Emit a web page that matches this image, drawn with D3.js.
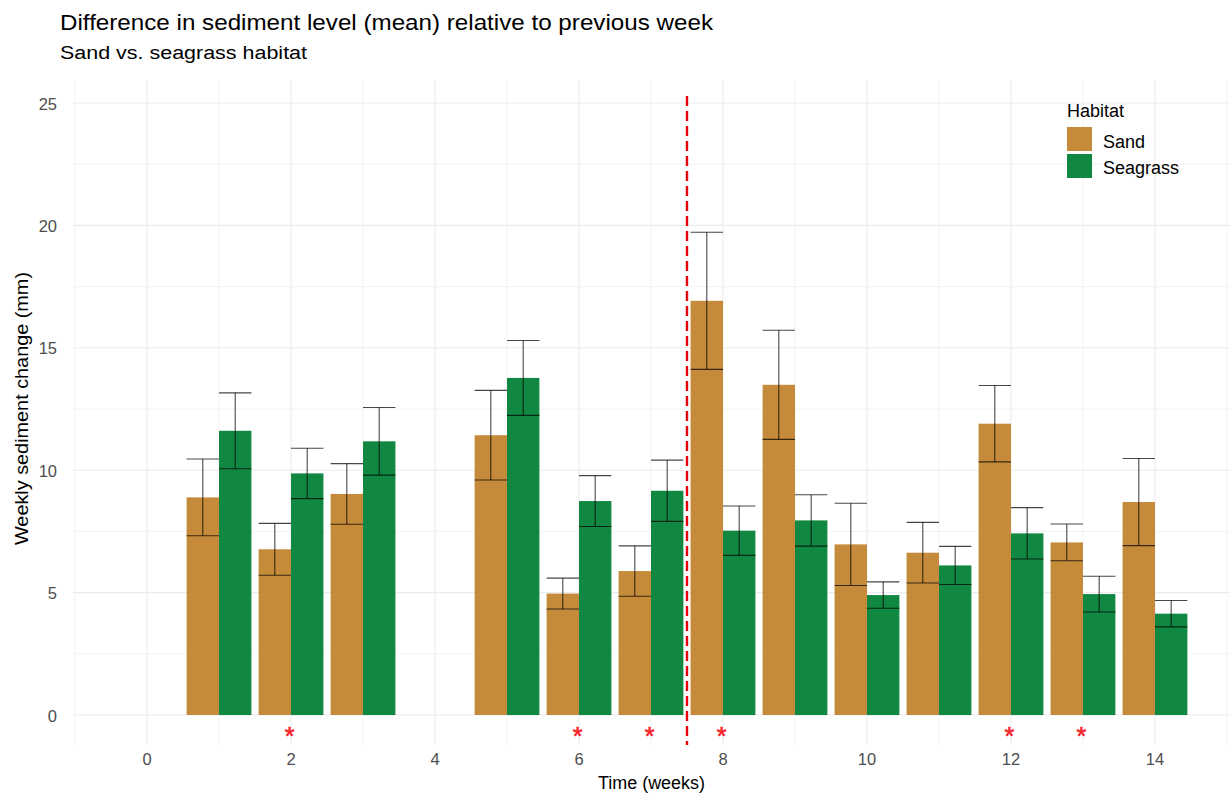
<!DOCTYPE html>
<html>
<head>
<meta charset="utf-8">
<script src="https://cdn.jsdelivr.net/npm/d3@7"></script>
<style>
  html, body { margin: 0; padding: 0; background: #fff; }
  svg { display: block; font-family: "Liberation Sans", Arial, sans-serif; }
</style>
</head>
<body>
<svg id="chart" width="1232" height="796"></svg>
<script>
// Weekly sediment change per habitat: mean and error half-width (mm)
const weeks = [1, 2, 3, 5, 6, 7, 8, 9, 10, 11, 12, 13, 14];
const habitats = ["Sand", "Seagrass"];
const sandMean = [8.89, 6.77, 9.03, 11.43, 4.96, 5.88, 16.92, 13.49, 6.97, 6.63, 11.90, 7.05, 8.70];
const sandErr  = [1.57, 1.06, 1.24, 1.83, 0.63, 1.03, 2.80, 2.23, 1.68, 1.24, 1.56, 0.75, 1.78];
const seagrassMean = [11.61, 9.87, 11.18, 13.77, 8.74, 9.16, 7.53, 7.95, 4.90, 6.11, 7.42, 4.94, 4.14];
const seagrassErr  = [1.55, 1.03, 1.38, 1.53, 1.04, 1.25, 1.01, 1.05, 0.54, 0.78, 1.05, 0.73, 0.54];
// Weeks flagged as significantly different
const signifWeeks = [2, 6, 7, 8, 12, 13];
// Week where the disturbance starts
const breakWeek = 7.5;
const xTicks = [0, 2, 4, 6, 8, 10, 12, 14];
const yTicks = [0, 5, 10, 15, 20, 25];

const colors = { Sand: "#C68B3A", Seagrass: "#108842" };

const rows = [];
weeks.forEach((w, i) => {
  rows.push({ week: w, habitat: "Sand", mean: sandMean[i], err: sandErr[i] });
  rows.push({ week: w, habitat: "Seagrass", mean: seagrassMean[i], err: seagrassErr[i] });
});

const svg = d3.select("#chart");
const panel = { left: 73, right: 1230, top: 80, bottom: 745 };

const x = d3.scaleLinear().domain([-1.028, 15.042]).range([panel.left, panel.right]);
const y = d3.scaleLinear().domain([-1.225, 25.94]).range([panel.bottom, panel.top]);

const dodge = d3.scaleBand().domain(habitats).range([-0.45, 0.45]).padding(0);

// grid lines
const g = svg.append("g");
const minorX = d3.range(-1, 16, 2);
const minorY = d3.range(2.5, 26, 5);
g.selectAll(".vminor").data(minorX).join("line")
  .attr("x1", d => x(d)).attr("x2", d => x(d))
  .attr("y1", panel.top).attr("y2", panel.bottom)
  .attr("stroke", "#EBEBEB").attr("stroke-width", 0.6);
g.selectAll(".hminor").data(minorY).join("line")
  .attr("x1", panel.left).attr("x2", panel.right)
  .attr("y1", d => y(d)).attr("y2", d => y(d))
  .attr("stroke", "#EBEBEB").attr("stroke-width", 0.6);
g.selectAll(".vmajor").data(xTicks).join("line")
  .attr("x1", d => x(d)).attr("x2", d => x(d))
  .attr("y1", panel.top).attr("y2", panel.bottom)
  .attr("stroke", "#EBEBEB").attr("stroke-width", 1.1);
g.selectAll(".hmajor").data(yTicks).join("line")
  .attr("x1", panel.left).attr("x2", panel.right)
  .attr("y1", d => y(d)).attr("y2", d => y(d))
  .attr("stroke", "#EBEBEB").attr("stroke-width", 1.1);

// bars
svg.append("g").selectAll("rect").data(rows).join("rect")
  .attr("x", d => x(d.week + dodge(d.habitat)))
  .attr("width", d => x(d.week + dodge(d.habitat) + dodge.bandwidth()) - x(d.week + dodge(d.habitat)))
  .attr("y", d => y(d.mean))
  .attr("height", d => y(0) - y(d.mean))
  .attr("fill", d => colors[d.habitat]);

// error bars
const eb = svg.append("g").attr("stroke", "#000").attr("stroke-opacity", 0.72).attr("stroke-width", 1.1);
rows.forEach(d => {
  const x0 = x(d.week + dodge(d.habitat));
  const x1 = x(d.week + dodge(d.habitat) + dodge.bandwidth());
  const xc = (x0 + x1) / 2;
  const yHi = y(d.mean + d.err), yLo = y(d.mean - d.err);
  eb.append("line").attr("x1", xc).attr("x2", xc).attr("y1", yHi).attr("y2", yLo);
  eb.append("line").attr("x1", x0).attr("x2", x1).attr("y1", yHi).attr("y2", yHi);
  eb.append("line").attr("x1", x0).attr("x2", x1).attr("y1", yLo).attr("y2", yLo);
});

// disturbance marker
svg.append("line")
  .attr("x1", x(breakWeek)).attr("x2", x(breakWeek))
  .attr("y1", panel.top + 16).attr("y2", panel.bottom)
  .attr("stroke", "#E8000B").attr("stroke-width", 2.4)
  .attr("stroke-dasharray", "10,5");

// significance asterisks
svg.append("g").selectAll("text").data(signifWeeks).join("text")
  .attr("x", d => x(d) - 1.5).attr("y", y(-0.75) + 12)
  .attr("text-anchor", "middle")
  .attr("fill", "#F8222B").attr("font-size", 25)
  .attr("stroke", "#F8222B").attr("stroke-width", 0.6)
  .text("*");

// tick labels
svg.append("g").selectAll("text").data(xTicks).join("text")
  .attr("x", d => x(d)).attr("y", 765)
  .attr("text-anchor", "middle").attr("fill", "#4D4D4D").attr("font-size", 16.5)
  .text(d => d);
svg.append("g").selectAll("text").data(yTicks).join("text")
  .attr("x", 57).attr("y", d => y(d) + 6.5)
  .attr("text-anchor", "end").attr("fill", "#4D4D4D").attr("font-size", 16.5)
  .text(d => d);

// axis titles
svg.append("text")
  .attr("x", 651.5).attr("y", 789)
  .attr("text-anchor", "middle").attr("fill", "#000").attr("font-size", 18)
  .attr("textLength", 107).attr("lengthAdjust", "spacingAndGlyphs")
  .text("Time (weeks)");
svg.append("text")
  .attr("transform", "translate(28, 408.5) rotate(-90)")
  .attr("text-anchor", "middle").attr("fill", "#000").attr("font-size", 18)
  .attr("textLength", 273).attr("lengthAdjust", "spacingAndGlyphs")
  .text("Weekly sediment change (mm)");

// titles
svg.append("text").attr("x", 60).attr("y", 30)
  .attr("font-size", 21.6).attr("fill", "#000")
  .attr("textLength", 653).attr("lengthAdjust", "spacingAndGlyphs")
  .text("Difference in sediment level (mean) relative to previous week");
svg.append("text").attr("x", 60).attr("y", 59)
  .attr("font-size", 18).attr("fill", "#000")
  .attr("textLength", 247).attr("lengthAdjust", "spacingAndGlyphs")
  .text("Sand vs. seagrass habitat");

// legend
const lg = svg.append("g");
lg.append("text").attr("x", 1067).attr("y", 117).attr("font-size", 18).attr("fill", "#000").text("Habitat");
habitats.forEach((h, i) => {
  lg.append("rect").attr("x", 1067).attr("y", 127 + i * 27).attr("width", 25).attr("height", 24)
    .attr("fill", colors[h]);
  lg.append("text").attr("x", 1103).attr("y", 148 + i * 25.5).attr("font-size", 18).attr("fill", "#000").text(h);
});
</script>
</body>
</html>
